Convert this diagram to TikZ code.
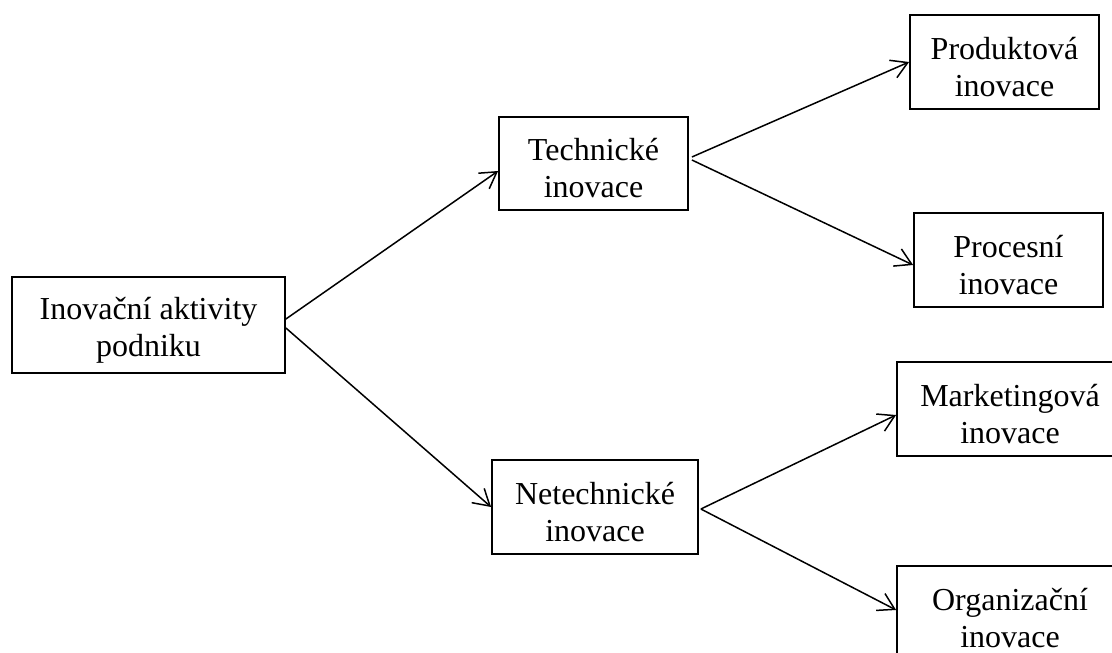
\documentclass[tikz,border=0pt]{standalone}
\usepackage{fontspec}
\setmainfont{Liberation Serif}
\usetikzlibrary{arrows.meta,calc}
\begin{document}
\begin{tikzpicture}[x=1pt,y=-1pt,
  box/.style={draw,line width=1.8pt,inner sep=0pt,minimum height=94pt},
  txt/.style={align=center,inner sep=0pt,yshift=-5pt,font=\fontsize{32}{37}\selectfont},
  conn/.style={line width=1.5pt,-{Straight Barb[length=16pt,width=19pt,line width=1.5pt]}}]
\useasboundingbox (0,0) rectangle (1112,653);
\clip (0,0) rectangle (1112,653);
\node[box,minimum width=273pt,minimum height=96pt,label={[txt]center:{Inovační aktivity\\podniku}}] (root) at (148.5,325) {};
\node[box,minimum width=189pt,minimum height=93pt,label={[txt]center:{Technické\\inovace}}] (tech) at (593.5,163.5) {};
\node[box,minimum width=206pt,label={[txt]center:{Netechnické\\inovace}}] (netech) at (595,507) {};
\node[box,minimum width=189pt,label={[txt]center:{Produktová\\inovace}}] (prod) at (1004.5,62) {};
\node[box,minimum width=189pt,label={[txt]center:{Procesní\\inovace}}] (proc) at (1008.5,260) {};
\node[box,minimum width=226pt,label={[txt]center:{Marketingová\\inovace}}] (mark) at (1010,409) {};
\node[box,minimum width=226pt,label={[txt]center:{Organizační\\inovace}}] (org) at (1010,613) {};
\draw[conn] ($(root.east)+(0,-6)$) -- ($(tech.west)+(0,7.5)$);
\draw[conn] ($(root.east)+(0,3)$) -- (netech.west);
\draw[conn] ($(tech.east)+(3,-6.5)$) -- (prod.west);
\draw[conn] ($(tech.east)+(3,-3.5)$) -- ($(proc.west)+(0,5)$);
\draw[conn] ($(netech.east)+(2,2)$) -- ($(mark.west)+(0,6)$);
\draw[conn] ($(netech.east)+(2,2)$) -- ($(org.west)+(0,-3)$);
\end{tikzpicture}
\end{document}
